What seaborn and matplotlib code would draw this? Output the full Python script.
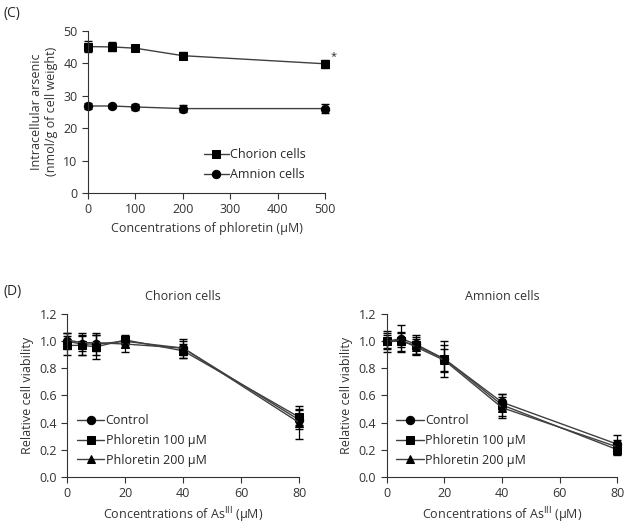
import numpy as np
import pandas as pd
import matplotlib
matplotlib.use("Agg")
import matplotlib.pyplot as plt
import seaborn as sns

sns.set_style("ticks")
plt.rcParams['font.family'] = ['Open Sans', 'DejaVu Sans']

# Panel C data
phl_conc = [0, 50, 100, 200, 500]
chorion_as = [45.1, 45.0, 44.6, 42.3, 39.8]
chorion_as_err = [1.6, 1.4, 0.9, 1.1, 1.2]
amnion_as = [26.8, 26.8, 26.5, 26.0, 26.0]
amnion_as_err = [0.8, 0.6, 0.8, 1.1, 1.3]

# Panel D data
as_conc = [0, 5, 10, 20, 40, 80]
series_names = ["Control", "Phloretin 100 \u00b5M", "Phloretin 200 \u00b5M"]
chorion_ctrl = [1.00, 0.98, 0.98, 1.00, 0.95, 0.42]
chorion_ctrl_err = [0.06, 0.08, 0.08, 0.04, 0.07, 0.07]
chorion_p100 = [0.97, 0.97, 0.96, 1.01, 0.93, 0.44]
chorion_p100_err = [0.07, 0.07, 0.09, 0.04, 0.05, 0.06]
chorion_p200 = [1.01, 0.99, 0.99, 0.98, 0.95, 0.40]
chorion_p200_err = [0.05, 0.06, 0.06, 0.06, 0.05, 0.12]
amnion_ctrl = [1.00, 1.02, 0.98, 0.87, 0.55, 0.24]
amnion_ctrl_err = [0.08, 0.10, 0.07, 0.13, 0.06, 0.07]
amnion_p100 = [1.00, 1.00, 0.97, 0.87, 0.53, 0.20]
amnion_p100_err = [0.06, 0.07, 0.06, 0.10, 0.08, 0.04]
amnion_p200 = [1.00, 1.01, 0.96, 0.86, 0.51, 0.22]
amnion_p200_err = [0.05, 0.05, 0.06, 0.08, 0.08, 0.05]

markers = ['o', 's', '^']
line_col = '#404040'
fs = 9

fig = plt.figure(figsize=(6.31, 5.28), dpi=100)

def style(ax):
    sns.despine(ax=ax)
    ax.tick_params(axis='both', direction='out', length=4, width=0.8, labelsize=fs, colors='#333333')
    for sp in ax.spines.values():
        sp.set_color('#333333')
        sp.set_linewidth(0.8)

# ---- Panel C ----
axC = fig.add_axes([0.1395, 0.6345, 0.3756, 0.3074])
dfc = pd.DataFrame({"x": phl_conc * 2,
                    "y": chorion_as + amnion_as,
                    "cell": ["Chorion cells"] * 5 + ["Amnion cells"] * 5})
sns.lineplot(data=dfc, x="x", y="y", hue="cell", style="cell",
             markers={"Chorion cells": 's', "Amnion cells": 'o'}, dashes=False,
             palette={"Chorion cells": line_col, "Amnion cells": line_col},
             markersize=6, markeredgecolor='black',
             linewidth=1.0, ax=axC, clip_on=False, legend=True)
for ln in axC.lines:
    ln.set_markerfacecolor('black')
axC.errorbar(phl_conc, chorion_as, yerr=chorion_as_err, fmt='none', ecolor='black', capsize=3, elinewidth=0.9, clip_on=False)
axC.errorbar(phl_conc, amnion_as, yerr=amnion_as_err, fmt='none', ecolor='black', capsize=3, elinewidth=0.9, clip_on=False)
axC.text(512, 42.0, '*', fontsize=8, ha='left', va='center')
axC.set_xlim(0, 500)
axC.set_ylim(0, 50)
axC.set_xticks([0, 100, 200, 300, 400, 500])
axC.set_yticks([0, 10, 20, 30, 40, 50])
axC.set_xlabel("Concentrations of phloretin (\u00b5M)", fontsize=fs, color='#333333')
axC.set_ylabel("Intracellular arsenic\n(nmol/g of cell weight)", fontsize=fs, color='#333333', labelpad=4)
style(axC)
h, l = axC.get_legend_handles_labels()
axC.legend(h, l, loc='lower right', bbox_to_anchor=(0.94, 0.04), frameon=False, fontsize=fs,
           handlelength=2.0, handletextpad=0.1, labelspacing=0.6, borderaxespad=0)

# ---- Panel D ----
def panel(rect, title, vals, errs):
    ax = fig.add_axes(rect)
    df = pd.DataFrame({"x": as_conc * 3,
                       "y": vals[0] + vals[1] + vals[2],
                       "grp": sum([[n] * len(as_conc) for n in series_names], [])})
    sns.lineplot(data=df, x="x", y="y", hue="grp", style="grp",
                 markers=dict(zip(series_names, markers)), dashes=False,
                 palette=dict(zip(series_names, [line_col] * 3)),
                 markersize=6, markeredgecolor='black', linewidth=1.0, ax=ax, clip_on=False)
    for ln in ax.lines:
        ln.set_markerfacecolor('black')
    for v, e in zip(vals, errs):
        ax.errorbar(as_conc, v, yerr=e, fmt='none', ecolor='black', capsize=3, elinewidth=0.9, clip_on=False)
    ax.set_xlim(0, 80)
    ax.set_ylim(0, 1.2)
    ax.set_xticks([0, 20, 40, 60, 80])
    ax.set_yticks(np.arange(0, 1.21, 0.2))
    ax.set_yticklabels([f"{t:.1f}" for t in np.arange(0, 1.21, 0.2)])
    ax.set_xlabel("Concentrations of As$^{\\mathrm{III}}$ (\u00b5M)", fontsize=fs, color='#333333')
    ax.set_ylabel("Relative cell viability", fontsize=fs, color='#333333', labelpad=4)
    ax.set_title(title, fontsize=fs, color='#333333', pad=10)
    style(ax)
    h, l = ax.get_legend_handles_labels()
    ax.legend(h, l, loc='lower left', bbox_to_anchor=(0.02, 0.03), frameon=False, fontsize=fs,
              handlelength=2.2, handletextpad=0.1, labelspacing=0.55, borderaxespad=0)
    return ax

panel([0.1067, 0.0972, 0.3672, 0.3076], "Chorion cells",
      [chorion_ctrl, chorion_p100, chorion_p200],
      [chorion_ctrl_err, chorion_p100_err, chorion_p200_err])
panel([0.6128, 0.0972, 0.3655, 0.3076], "Amnion cells",
      [amnion_ctrl, amnion_p100, amnion_p200],
      [amnion_ctrl_err, amnion_p100_err, amnion_p200_err])

fig.text(3 / 631, 1 - 14 / 528, "(C)", fontsize=10, va='center', ha='left')
fig.text(3 / 631, 1 - 291 / 528, "(D)", fontsize=10, va='center', ha='left')

fig.savefig("out.png", dpi=100)
